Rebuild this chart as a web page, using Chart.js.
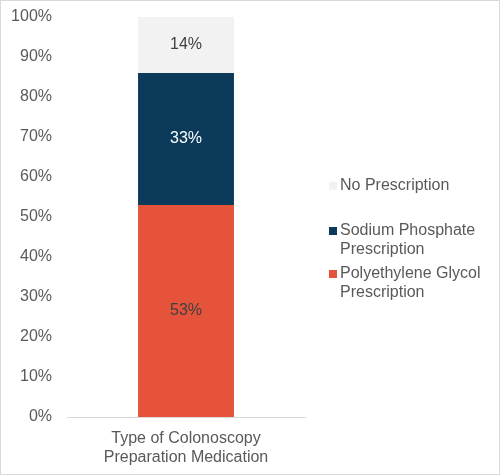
<!DOCTYPE html>
<html>
<head>
<meta charset="utf-8">
<script src="https://cdn.jsdelivr.net/npm/chart.js@4/dist/chart.umd.min.js"></script>
<style>
  html, body { margin: 0; padding: 0; background: #fff; }
  #wrap { width: 500px; height: 475px; box-sizing: border-box; border: 1px solid #d9d9d9; }
  canvas { display: block; }
</style>
</head>
<body>
<div id="wrap"><canvas id="chart" width="498" height="473"></canvas></div>
<script>
const categories = [["Type of Colonoscopy", "Preparation Medication"]]
const seriesNames = ["Polyethylene Glycol Prescription", "Sodium Phosphate Prescription", "No Prescription"]
const legendLines = [["Polyethylene Glycol", "Prescription"], ["Sodium Phosphate", "Prescription"], ["No Prescription"]]
const polyethylene = [53]
const sodium = [33]
const noPrescription = [14]
const yTicks = [0, 10, 20, 30, 40, 50, 60, 70, 80, 90, 100]

const font = "'Liberation Sans', Arial, sans-serif"
const textColor = "#595959"

// labels in the middle of each bar segment
const barLabels = {
    id: "barLabels",
    afterDatasetsDraw(chart) {
        const ctx = chart.ctx
        ctx.save()
        ctx.font = "16px " + font
        ctx.textAlign = "center"
        ctx.textBaseline = "middle"
        chart.data.datasets.forEach((ds, i) => {
            chart.getDatasetMeta(i).data.forEach((bar, j) => {
                ctx.fillStyle = ds.labelColor
                ctx.fillText(ds.data[j] + "%", bar.x, (bar.y + bar.base) / 2)
            })
        })
        ctx.restore()
    }
}

// legend on the right, top to bottom in reverse order
const sideLegend = {
    id: "sideLegend",
    afterDraw(chart) {
        const ctx = chart.ctx
        ctx.save()
        ctx.font = "16px " + font
        ctx.textBaseline = "middle"
        const x = chart.chartArea.right + 24
        const starts = [185, 230, 273]
        const order = [2, 1, 0]
        order.forEach((i, k) => {
            const ds = chart.data.datasets[i]
            const y = starts[k]
            ctx.fillStyle = ds.backgroundColor
            ctx.fillRect(x, y - 4, 8, 8)
            ctx.fillStyle = textColor
            legendLines[i].forEach((line, n) => {
                ctx.fillText(line, x + 11, y + n * 19)
            })
        })
        ctx.restore()
    }
}

const config = {
    type: "bar",
    data: {
        labels: categories,
        datasets: [
            { label: seriesNames[0], data: polyethylene, backgroundColor: "#e5533a", labelColor: "#404040" },
            { label: seriesNames[1], data: sodium, backgroundColor: "#0c3a5b", labelColor: "#ffffff" },
            { label: seriesNames[2], data: noPrescription, backgroundColor: "#f2f2f2", labelColor: "#404040" }
        ]
    },
    options: {
        responsive: false,
        animation: false,
        layout: { padding: { top: 16, right: 194, bottom: 0 } },
        datasets: { bar: { categoryPercentage: 1, barPercentage: 0.403 } },
        plugins: {
            legend: { display: false },
            tooltip: { enabled: false }
        },
        scales: {
            x: {
                stacked: true,
                afterFit(scale) { scale.height = 57 },
                grid: { display: false },
                border: { color: "#d9d9d9", width: 1 },
                ticks: { color: textColor, font: { family: font, size: 16 }, padding: 4 }
            },
            y: {
                stacked: true,
                min: 0,
                max: 100,
                afterFit(scale) {
                    scale.width = 66
                    scale.paddingTop = 0
                    scale.paddingBottom = 0
                },
                afterBuildTicks(scale) { scale.ticks = yTicks.map(v => ({ value: v })) },
                grid: { display: false, drawTicks: false },
                border: { display: false },
                ticks: {
                    color: textColor,
                    font: { family: font, size: 16 },
                    padding: 15,
                    callback: v => v + "%"
                }
            }
        }
    },
    plugins: [barLabels, sideLegend]
}

new Chart(document.getElementById("chart"), config)
</script>
</body>
</html>
